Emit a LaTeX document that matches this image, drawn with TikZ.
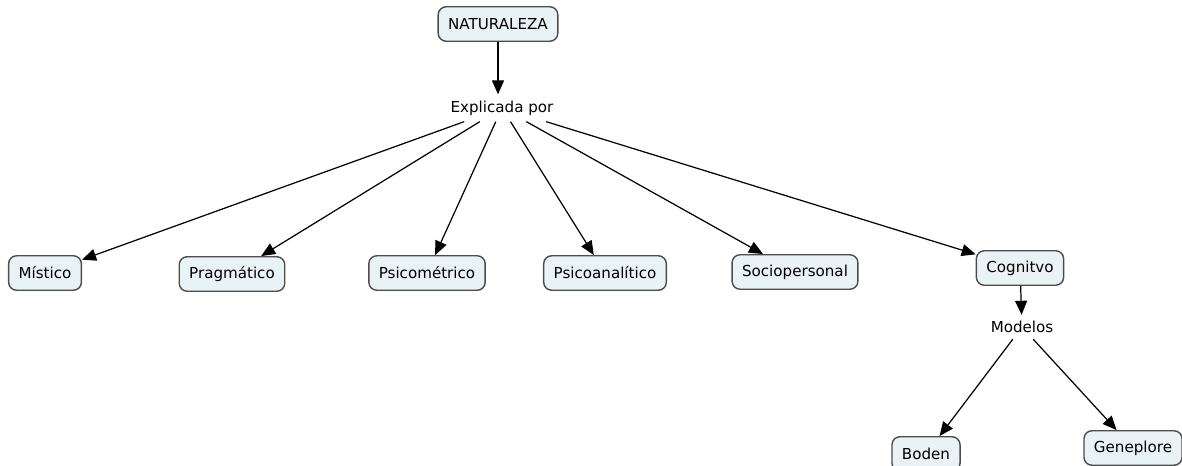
\documentclass[tikz,border=0pt]{standalone}
\usepackage{fontspec}
\setmainfont{DejaVu Sans}
\usetikzlibrary{arrows.meta}
\definecolor{boxfill}{RGB}{233,242,245}
\begin{document}
\begin{tikzpicture}[x = 0.02cm, y = -0.02cm, font = \fontsize{8.6}{10}\selectfont,
        concept/.style = {draw = black!70, line width = 0.8pt, fill = boxfill, rounded corners = 0.16cm, inner xsep = 0.2cm, minimum height = 0.69cm},
        phrase/.style = {inner sep = 0.12cm},
        link/.style = {line width = 0.7pt, -{Triangle[length = 0.28cm, width = 0.24cm]}}]
    \useasboundingbox (0,0) rectangle (1182,466);
    \node [concept] (naturaleza) at (498,24) {NATURALEZA};
    \node [phrase] (explicada) at (502,108) {Explicada por};
    \node [concept] (mistico) at (45,273) {Místico};
    \node [concept] (pragmatico) at (232,274) {Pragmático};
    \node [concept] (psicometrico) at (427,273) {Psicométrico};
    \node [concept] (psicoanalitico) at (605,273) {Psicoanalítico};
    \node [concept] (sociopersonal) at (795,272) {Sociopersonal};
    \node [concept] (cognitivo) at (1020,268) {Cognitvo};
    \node [phrase] (modelos) at (1022,327) {Modelos};
    \node [concept] (boden) at (926,454) {Boden};
    \node [concept] (geneplore) at (1133,448) {Geneplore};
    \draw [link] (naturaleza) -- (naturaleza |- explicada.north);
    \draw [link] (explicada) -- (mistico);
    \draw [link] (explicada) -- (pragmatico);
    \draw [link] (explicada) -- (psicometrico);
    \draw [link] (explicada) -- (psicoanalitico);
    \draw [link] (explicada) -- (sociopersonal);
    \draw [link] (explicada) -- (cognitivo);
    \draw [link] (cognitivo) -- (modelos);
    \draw [link] (modelos) -- (boden);
    \draw [link] (modelos) -- (geneplore);
\end{tikzpicture}
\end{document}
